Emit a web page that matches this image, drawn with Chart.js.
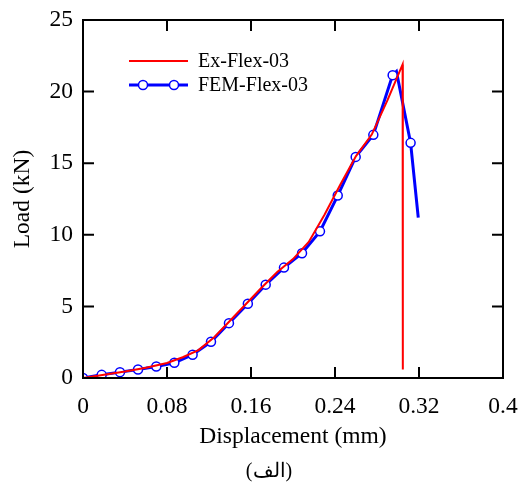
<!DOCTYPE html>
<html>
<head>
<meta charset="utf-8">
<script src="https://cdn.jsdelivr.net/npm/chart.js@4"></script>
<style>
  body { margin: 0; background: #fff; }
</style>
</head>
<body>
<canvas id="loadChart" width="519" height="485"></canvas>
<script>
// tick labels
const xTicks = [0, 0.08, 0.16, 0.24, 0.32, 0.4];
const yTicks = [0, 5, 10, 15, 20, 25];

// Ex-Flex-03 (test curve)
const exDisp = [0, 0.02, 0.04, 0.06, 0.08, 0.095, 0.11, 0.125, 0.14, 0.155, 0.17, 0.185, 0.2, 0.215, 0.23, 0.245, 0.26, 0.275, 0.29, 0.3044, 0.3046];
const exLoad = [0, 0.22, 0.45, 0.72, 1.05, 1.45, 1.95, 2.85, 4.0, 5.15, 6.3, 7.4, 8.3, 9.5, 11.4, 13.5, 15.5, 17.0, 19.4, 21.9, 0.6];

// FEM-Flex-03 (model curve), 0 in femMarker = no circle
const femDisp = [0, 0.0178, 0.0352, 0.0524, 0.0698, 0.087, 0.1044, 0.1219, 0.139, 0.157, 0.174, 0.1914, 0.2086, 0.2257, 0.2426, 0.2597, 0.2765, 0.2949, 0.2985, 0.312, 0.3193];
const femLoad = [0, 0.22, 0.41, 0.59, 0.8, 1.06, 1.62, 2.53, 3.83, 5.19, 6.52, 7.71, 8.71, 10.24, 12.74, 15.44, 16.98, 21.15, 21.4, 16.42, 11.2];
const femMarker = [1, 1, 1, 1, 1, 1, 1, 1, 1, 1, 1, 1, 1, 1, 1, 1, 1, 1, 0, 1, 0];

const caption = '(الف)';

const serif = '"Liberation Serif", "Times New Roman", serif';
const big = 23.5;

// frame, inward ticks on all sides, legend and caption
const framePlugin = {
    id: 'frame',
    afterDatasetsDraw(chart) {
        const { ctx, chartArea: a, scales } = chart;
        const len = 11;
        ctx.save();
        ctx.strokeStyle = '#000';
        ctx.lineWidth = 2;
        ctx.strokeRect(a.left, a.top, a.right - a.left, a.bottom - a.top);
        ctx.beginPath();
        xTicks.forEach(v => {
            const px = scales.x.getPixelForValue(v);
            ctx.moveTo(px, a.bottom); ctx.lineTo(px, a.bottom - len);
            ctx.moveTo(px, a.top); ctx.lineTo(px, a.top + len);
        });
        yTicks.forEach(v => {
            const py = scales.y.getPixelForValue(v);
            ctx.moveTo(a.left, py); ctx.lineTo(a.left + len, py);
            ctx.moveTo(a.right, py); ctx.lineTo(a.right - len, py);
        });
        ctx.stroke();

        // legend
        const items = chart.data.datasets;
        ctx.font = '20px ' + serif;
        ctx.textBaseline = 'middle';
        items.forEach((ds, i) => {
            const y = 61 + i * 24;
            ctx.strokeStyle = ds.borderColor;
            ctx.lineWidth = ds.borderWidth;
            ctx.beginPath();
            ctx.moveTo(129, y); ctx.lineTo(188, y);
            ctx.stroke();
            if (i === 1) {
                [143, 174].forEach(cx => {
                    ctx.beginPath();
                    ctx.arc(cx, y, 4.5, 0, Math.PI * 2);
                    ctx.fillStyle = '#fff';
                    ctx.fill();
                    ctx.lineWidth = 1.5;
                    ctx.stroke();
                });
            }
            ctx.fillStyle = '#000';
            ctx.fillText(ds.label, 198, y + 1);
        });

        // caption under the axis title
        ctx.font = '20px ' + serif;
        ctx.textAlign = 'center';
        ctx.fillText(caption, 269, 472);
        ctx.restore();
    }
};

new Chart(document.getElementById('loadChart'), {
    type: 'scatter',
    data: {
        datasets: [
            {
                label: 'Ex-Flex-03',
                data: exDisp.map((x, i) => ({ x: x, y: exLoad[i] })),
                showLine: true,
                borderColor: '#ff0000',
                borderWidth: 2,
                pointRadius: 0,
                tension: 0
            },
            {
                label: 'FEM-Flex-03',
                data: femDisp.map((x, i) => ({ x: x, y: femLoad[i] })),
                showLine: true,
                borderColor: '#0000ff',
                borderWidth: 3,
                pointRadius: femMarker.map(m => m ? 4.5 : 0),
                pointBackgroundColor: '#fff',
                pointBorderColor: '#0000ff',
                pointBorderWidth: 1.5,
                tension: 0
            }
        ]
    },
    options: {
        responsive: false,
        animation: false,
        layout: { padding: { left: 0, right: 16, top: 20, bottom: 0 } },
        plugins: {
            legend: { display: false },
            tooltip: { enabled: false }
        },
        scales: {
            x: {
                type: 'linear',
                min: 0,
                max: 0.4,
                afterBuildTicks: s => { s.ticks = xTicks.map(v => ({ value: v })); },
                afterFit: s => { s.height = 107; s.paddingLeft = 0; s.paddingRight = 0; },
                grid: { display: false, drawTicks: false },
                border: { display: false },
                ticks: {
                    padding: 15,
                    color: '#000',
                    font: { family: serif, size: big },
                    callback: v => String(v)
                },
                title: {
                    display: true,
                    text: 'Displacement (mm)',
                    color: '#000',
                    font: { family: serif, size: big },
                    padding: { top: 0, bottom: 34 }
                }
            },
            y: {
                type: 'linear',
                min: 0,
                max: 25,
                afterBuildTicks: s => { s.ticks = yTicks.map(v => ({ value: v })); },
                afterFit: s => { s.width = 83; s.paddingTop = 0; s.paddingBottom = 0; },
                grid: { display: false, drawTicks: false },
                border: { display: false },
                ticks: {
                    padding: 10,
                    color: '#000',
                    font: { family: serif, size: big }
                },
                title: {
                    display: true,
                    text: 'Load (kN)',
                    color: '#000',
                    font: { family: serif, size: big },
                    padding: { top: 9, bottom: 0 }
                }
            }
        }
    },
    plugins: [framePlugin]
});
</script>
</body>
</html>
